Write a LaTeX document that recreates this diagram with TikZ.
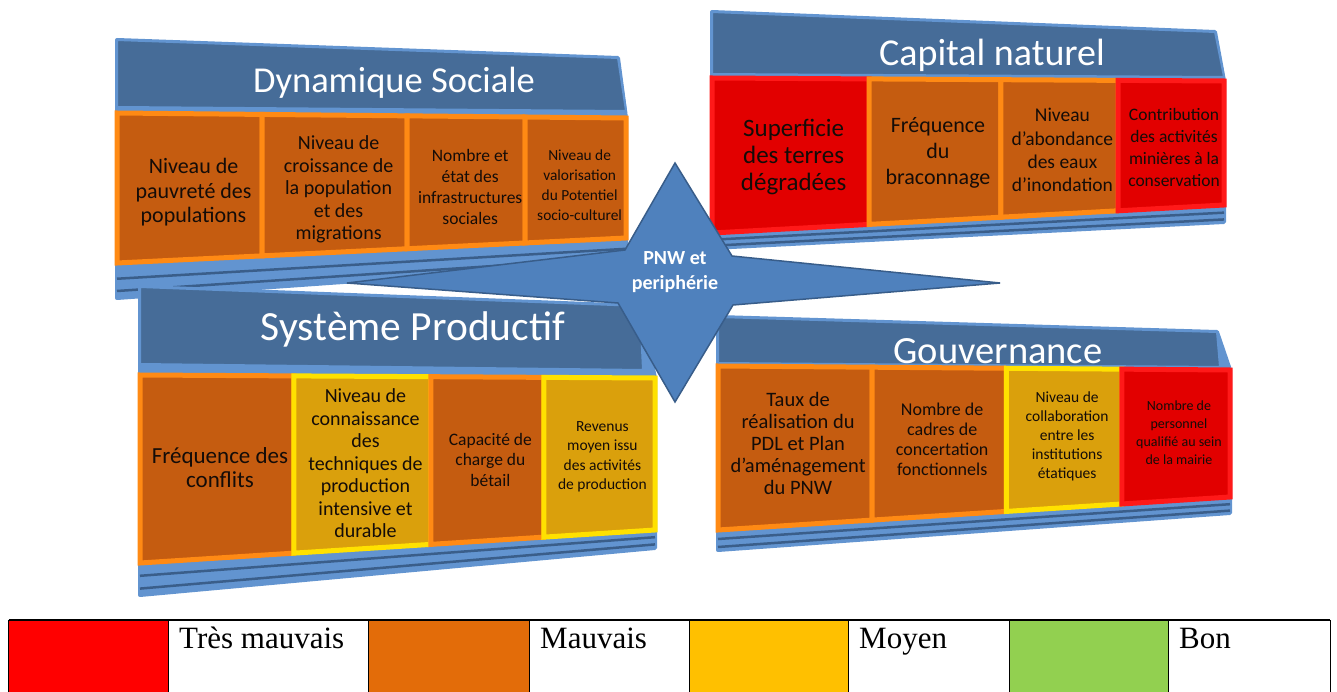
\documentclass[tikz,border=0pt]{standalone}
\usepackage{fontspec}
\setmainfont{Carlito}
\newfontfamily\legendfont{Liberation Serif}
\usetikzlibrary{calc}

\definecolor{hdblue}{RGB}{70,108,152}
\definecolor{rimblue}{RGB}{98,148,208}
\definecolor{basedark}{RGB}{58,94,138}
\definecolor{orfill}{RGB}{197,92,16}
\definecolor{orrim}{RGB}{255,138,20}
\definecolor{rdfill}{RGB}{226,0,0}
\definecolor{rdrim}{RGB}{255,25,25}
\definecolor{ylfill}{RGB}{218,160,12}
\definecolor{ylrim}{RGB}{255,225,0}
\definecolor{starblue}{RGB}{79,129,189}
\definecolor{stardark}{RGB}{56,93,138}
\definecolor{txtdark}{RGB}{20,12,8}
\definecolor{legred}{HTML}{FF0000}
\definecolor{legorange}{HTML}{E36C09}
\definecolor{legyellow}{HTML}{FFC000}
\definecolor{leggreen}{HTML}{92D050}

\begin{document}
\begin{tikzpicture}[x=1pt, y=-1pt,
    frame/.style={fill=rimblue, draw=rimblue, line width=4, line join=round},
    header/.style={fill=hdblue, draw=rimblue, line width=2},
    baseband/.style={draw=basedark, line width=2.5},
    orbox/.style={fill=orfill, draw=orrim, line width=5},
    rdbox/.style={fill=rdfill, draw=rdrim, line width=5},
    ylbox/.style={fill=ylfill, draw=ylrim, line width=5},
    crit/.style={align=center, text=txtdark, inner sep=0},
    paneltitle/.style={text=white, inner sep=0},
    pnwstar/.style={fill=starblue, draw=stardark, line width=1.5, line join=miter},
    startext/.style={text=white, align=center, inner sep=0, font=\bfseries\fontsize{20}{25}\selectfont},
    legcell/.style={draw=black, line width=1},
    legtext/.style={anchor=base west, inner sep=0, font=\legendfont\fontsize{31}{36}\selectfont}]

    \useasboundingbox (0,0) rectangle (1337,692);

    % Dynamique Sociale
    \coordinate (dsTL) at (117,40);
    \coordinate (dsTR) at (618,58);
    \coordinate (dsUL) at (117,113);
    \coordinate (dsUR) at (626,118);
    \coordinate (dsBL) at (117,263);
    \coordinate (dsBR) at (626,238);
    \coordinate (dsEL) at (117,298);
    \coordinate (dsER) at (626,262);

    \filldraw[frame] (dsTL) -- (dsTR) -- (dsUR) -- (dsER) -- (dsEL) -- cycle;
    \filldraw[header] (dsTL) -- (dsTR) -- ($(dsUR)+(0,-7)$) -- ($(dsUL)+(0,-6)$) -- cycle;
    \draw[baseband] ($(dsBL)!0.45!(dsEL)$) -- ($(dsBR)!0.45!(dsER)$);
    \draw[baseband] ($(dsBL)!0.8!(dsEL)$) -- ($(dsBR)!0.8!(dsER)$);
    \node[paneltitle, font=\fontsize{36.5}{40}\selectfont] (dsTitle) at (394,83) {Dynamique Sociale};

    \foreach \a/\b/\st/\fs/\ls/\txt [count=\i] in {
        0/0.285/orbox/22/24.5/{Niveau de\\pauvreté des\\populations},
        0.285/0.570/orbox/20/22.5/{Niveau de\\croissance de\\la population\\et des\\migrations},
        0.570/0.802/orbox/17.5/21/{Nombre et\\état des\\infrastructures\\sociales},
        0.802/1/orbox/15.4/20/{Niveau de\\valorisation\\du Potentiel\\socio-culturel}}{
        \pgfmathsetmacro{\m}{(\a+\b)/2}
        \filldraw[\st] ($(dsUL)!\a!(dsUR)$) -- ($(dsUL)!\b!(dsUR)$) -- ($(dsBL)!\b!(dsBR)$) -- ($(dsBL)!\a!(dsBR)$) -- cycle;
        \coordinate (top) at ($(dsUL)!\m!(dsUR)$);
        \coordinate (bot) at ($(dsBL)!\m!(dsBR)$);
        \node[crit, font=\fontsize{\fs}{\ls}\selectfont] (ds\i) at ($(top)!0.5!(bot)+(4,6)$) {\txt};
    }

    % Capital naturel
    \coordinate (cnTL) at (712,12);
    \coordinate (cnTR) at (1215,32);
    \coordinate (cnUL) at (712,78);
    \coordinate (cnUR) at (1224,81);
    \coordinate (cnBL) at (712,233);
    \coordinate (cnBR) at (1224,205);
    \coordinate (cnEL) at (712,248);
    \coordinate (cnER) at (1224,222);

    \filldraw[frame] (cnTL) -- (cnTR) -- (cnUR) -- (cnER) -- (cnEL) -- cycle;
    \filldraw[header] (cnTL) -- (cnTR) -- ($(cnUR)+(0,-4)$) -- ($(cnUL)+(0,-4)$) -- cycle;
    \draw[baseband] ($(cnBL)!0.45!(cnEL)$) -- ($(cnBR)!0.45!(cnER)$);
    \draw[baseband] ($(cnBL)!0.85!(cnEL)$) -- ($(cnBR)!0.85!(cnER)$);
    \node[paneltitle, font=\fontsize{38}{42}\selectfont] (cnTitle) at (992,55) {Capital naturel};

    \foreach \a/\b/\st/\fs/\ls/\txt [count=\i] in {
        0/0.307/rdbox/25/27/{Superficie\\des terres\\dégradées},
        0.307/0.564/orbox/22/26/{Fréquence\\du\\braconnage},
        0.564/0.793/orbox/19.5/23.3/{Niveau\\d'abondance\\des eaux\\d'inondation},
        0.793/1/rdbox/17.5/22/{Contribution\\des activités\\minières à la\\conservation}}{
        \pgfmathsetmacro{\m}{(\a+\b)/2}
        \filldraw[\st] ($(cnUL)!\a!(cnUR)$) -- ($(cnUL)!\b!(cnUR)$) -- ($(cnBL)!\b!(cnBR)$) -- ($(cnBL)!\a!(cnBR)$) -- cycle;
        \coordinate (top) at ($(cnUL)!\m!(cnUR)$);
        \coordinate (bot) at ($(cnBL)!\m!(cnBR)$);
        \node[crit, font=\fontsize{\fs}{\ls}\selectfont] (cn\i) at ($(top)!0.5!(bot)+(3,3)$) {\txt};
    }

    % Systeme Productif
    \coordinate (spTL) at (140,287);
    \coordinate (spTR) at (640,306);
    \coordinate (spUL) at (140,375);
    \coordinate (spUR) at (655,378);
    \coordinate (spBL) at (140,563);
    \coordinate (spBR) at (655,530);
    \coordinate (spEL) at (140,595);
    \coordinate (spER) at (655,548);

    \filldraw[frame] (spTL) -- (spTR) -- (spUR) -- (spER) -- (spEL) -- cycle;
    \filldraw[header] (spTL) -- (spTR) -- ($(spUR)+(-12,-8)$) -- ($(spUL)+(0,-11)$) -- cycle;
    \draw[baseband] ($(spBL)!0.4!(spEL)$) -- ($(spBR)!0.4!(spER)$);
    \draw[baseband] ($(spBL)!0.8!(spEL)$) -- ($(spBR)!0.8!(spER)$);
    \node[paneltitle, font=\fontsize{41.5}{45}\selectfont] (spTitle) at (413,329) {Système Productif};

    \foreach \a/\b/\st/\fs/\ls/\txt [count=\i] in {
        0/0.299/orbox/23/23.5/{Fréquence des\\conflits},
        0.299/0.565/ylbox/20/22.5/{Niveau de\\connaissance\\des\\techniques de\\production\\intensive et\\durable},
        0.565/0.784/orbox/17.5/20.5/{Capacité de\\charge du\\bétail},
        0.784/1/ylbox/15.5/19.5/{Revenus\\moyen issu\\des activités\\de production}}{
        \pgfmathsetmacro{\m}{(\a+\b)/2}
        \filldraw[\st] ($(spUL)!\a!(spUR)$) -- ($(spUL)!\b!(spUR)$) -- ($(spBL)!\b!(spBR)$) -- ($(spBL)!\a!(spBR)$) -- cycle;
        \coordinate (top) at ($(spUL)!\m!(spUR)$);
        \coordinate (bot) at ($(spBL)!\m!(spBR)$);
        \node[crit, font=\fontsize{\fs}{\ls}\selectfont] (sp\i) at ($(top)!0.5!(bot)+(3,1)$) {\txt};
    }

    % Gouvernance
    \coordinate (gvTL) at (718,317);
    \coordinate (gvTR) at (1217,332);
    \coordinate (gvUL) at (718,366);
    \coordinate (gvUR) at (1230,370);
    \coordinate (gvBL) at (718,530);
    \coordinate (gvBR) at (1230,497);
    \coordinate (gvEL) at (718,550);
    \coordinate (gvER) at (1230,513);

    \filldraw[frame] (gvTL) -- (gvTR) -- (gvUR) -- (gvER) -- (gvEL) -- cycle;
    \filldraw[header] (gvTL) -- (gvTR) -- ($(gvUR)+(-10,-3)$) -- ($(gvUL)+(0,-3)$) -- cycle;
    \draw[baseband] ($(gvBL)!0.45!(gvEL)$) -- ($(gvBR)!0.45!(gvER)$);
    \draw[baseband] ($(gvBL)!0.85!(gvEL)$) -- ($(gvBR)!0.85!(gvER)$);

    \foreach \a/\b/\st/\fs/\ls/\txt [count=\i] in {
        0/0.301/orbox/20.5/22/{Taux de\\réalisation du\\PDL et Plan\\d'aménagement\\du PNW},
        0.301/0.563/orbox/18/20/{Nombre de\\cadres de\\concertation\\fonctionnels},
        0.563/0.789/ylbox/15.5/19/{Niveau de\\collaboration\\entre les\\institutions\\étatiques},
        0.789/1/rdbox/14/18/{Nombre de\\personnel\\qualifié au sein\\de la mairie}}{
        \pgfmathsetmacro{\m}{(\a+\b)/2}
        \filldraw[\st] ($(gvUL)!\a!(gvUR)$) -- ($(gvUL)!\b!(gvUR)$) -- ($(gvBL)!\b!(gvBR)$) -- ($(gvBL)!\a!(gvBR)$) -- cycle;
        \coordinate (top) at ($(gvUL)!\m!(gvUR)$);
        \coordinate (bot) at ($(gvBL)!\m!(gvBR)$);
        \node[crit, font=\fontsize{\fs}{\ls}\selectfont] (gv\i) at ($(top)!0.5!(bot)+(3,-2)$) {\txt};
    }
    \node[paneltitle, font=\fontsize{38.5}{42}\selectfont] (gvTitle) at (998,351) {Gouvernance};

    % Star in the middle
    \filldraw[pnwstar] (675,163) -- (732,256) -- (1000,283) -- (733,305) -- (675,402)
        -- (618,303) -- (347,283) -- (625,250) -- cycle;
    \node[startext] (pnw) at (675,272) {PNW et\\periphérie};

    % Legend
    \draw[line width=2.5] (8.5,620) -- (1330,620);
    \foreach \xa/\xb/\xc/\col/\lab [count=\i] in {
        8.5/168/368/legred/Très mauvais,
        368/529/689/legorange/Mauvais,
        689/848/1009/legyellow/Moyen,
        1009/1168/1330/leggreen/Bon}{
        \filldraw[legcell, fill=\col] (\xa,620) rectangle (\xb,700);
        \draw[legcell] (\xb,620) rectangle (\xc,700);
        \node[legtext] (lg\i) at (\xb+11,648) {\lab};
    }

\end{tikzpicture}
\end{document}
